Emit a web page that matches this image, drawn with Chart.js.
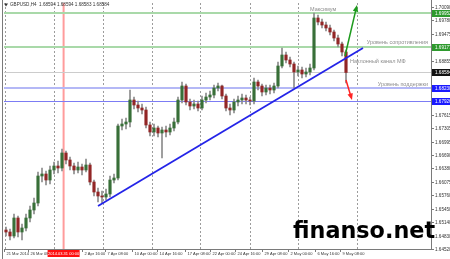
<!DOCTYPE html>
<html>
<head>
<meta charset="utf-8">
<script src="https://cdn.jsdelivr.net/npm/chart.js@4.4.1/dist/chart.umd.min.js"></script>
<style>
  html, body { margin: 0; padding: 0; background: #fff; }
  canvas { display: block; }
</style>
</head>
<body>
<canvas id="chart" width="450" height="259"></canvas>
<script>
// GBPUSD H4, 21 Mar - 9 May 2014 (one candle per slot)
const opens = [1.64961, 1.64915, 1.64823, 1.65237, 1.64915, 1.65007, 1.65237, 1.65421, 1.65582, 1.66203,
  1.66249, 1.66111, 1.66341, 1.66433, 1.66387, 1.66732, 1.66571, 1.66433, 1.66341, 1.66410,
  1.66341, 1.66456, 1.66065, 1.65835, 1.65743, 1.65720, 1.65789, 1.66111, 1.66157, 1.67353,
  1.67399, 1.67445, 1.67951, 1.67836, 1.67767, 1.67721, 1.67376, 1.67215, 1.67307, 1.67192,
  1.67261, 1.67215, 1.67307, 1.67445, 1.67951, 1.68273, 1.67905, 1.67813, 1.67859, 1.67767,
  1.67951, 1.68020, 1.68066, 1.68227, 1.68273, 1.68043, 1.67767, 1.67721, 1.67905, 1.67951,
  1.67997, 1.67951, 1.67928, 1.68365, 1.68273, 1.68135, 1.68227, 1.68181, 1.68273, 1.68733,
  1.68986, 1.68871, 1.68779, 1.68595, 1.68641, 1.68549, 1.68595, 1.68687, 1.69837, 1.69745,
  1.69676, 1.69607, 1.69515, 1.69377, 1.69239, 1.69055];
const highs = [1.65030, 1.64984, 1.65329, 1.65283, 1.65099, 1.65329, 1.65513, 1.65697, 1.66295, 1.66387,
  1.66318, 1.66433, 1.66525, 1.66548, 1.66824, 1.66778, 1.66640, 1.66502, 1.66525, 1.66479,
  1.66594, 1.66502, 1.66111, 1.65927, 1.65858, 1.65904, 1.66203, 1.66249, 1.67399, 1.67514,
  1.67537, 1.68181, 1.68020, 1.67928, 1.67859, 1.67790, 1.67445, 1.67399, 1.67353, 1.67330,
  1.67353, 1.67399, 1.67537, 1.68020, 1.68365, 1.68319, 1.67974, 1.67951, 1.67928, 1.68043,
  1.68112, 1.68158, 1.68296, 1.68342, 1.68296, 1.68089, 1.67859, 1.67974, 1.68043, 1.68089,
  1.68066, 1.68020, 1.68457, 1.68411, 1.68319, 1.68296, 1.68296, 1.68342, 1.68825, 1.69147,
  1.69055, 1.68940, 1.68825, 1.68733, 1.68710, 1.68687, 1.68779, 1.69952, 1.69906, 1.69814,
  1.69745, 1.69676, 1.69561, 1.69446, 1.69285, 1.69101];
const lows = [1.64823, 1.64731, 1.64777, 1.64800, 1.64731, 1.64938, 1.65145, 1.65329, 1.65513, 1.66065,
  1.65996, 1.66019, 1.66249, 1.66272, 1.66318, 1.66479, 1.66341, 1.66249, 1.66272, 1.66226,
  1.66295, 1.65996, 1.65743, 1.65605, 1.65582, 1.65651, 1.65720, 1.66042, 1.66111, 1.67261,
  1.67284, 1.67330, 1.67744, 1.67675, 1.67629, 1.67307, 1.67123, 1.67123, 1.67100, 1.66617,
  1.67100, 1.67146, 1.67238, 1.67399, 1.67882, 1.67836, 1.67721, 1.67744, 1.67698, 1.67721,
  1.67882, 1.67951, 1.67997, 1.68158, 1.67974, 1.67698, 1.67606, 1.67652, 1.67813, 1.67859,
  1.67859, 1.67836, 1.67859, 1.68181, 1.68043, 1.68066, 1.68089, 1.68112, 1.68227, 1.68687,
  1.68802, 1.68710, 1.68227, 1.68503, 1.68457, 1.68480, 1.68526, 1.68641, 1.69676, 1.69607,
  1.69538, 1.69446, 1.69308, 1.69170, 1.68963, 1.68342];
const closes = [1.64915, 1.64823, 1.65237, 1.64915, 1.65007, 1.65237, 1.65421, 1.65582, 1.66203, 1.66249,
  1.66111, 1.66341, 1.66433, 1.66387, 1.66732, 1.66571, 1.66433, 1.66341, 1.66410, 1.66341,
  1.66456, 1.66065, 1.65835, 1.65743, 1.65720, 1.65789, 1.66111, 1.66157, 1.67353, 1.67399,
  1.67445, 1.67951, 1.67836, 1.67767, 1.67721, 1.67376, 1.67215, 1.67307, 1.67192, 1.67261,
  1.67215, 1.67307, 1.67445, 1.67951, 1.68273, 1.67905, 1.67813, 1.67859, 1.67767, 1.67951,
  1.68020, 1.68066, 1.68227, 1.68273, 1.68043, 1.67767, 1.67721, 1.67905, 1.67951, 1.67997,
  1.67951, 1.67928, 1.68365, 1.68273, 1.68135, 1.68227, 1.68181, 1.68273, 1.68733, 1.68986,
  1.68871, 1.68779, 1.68595, 1.68641, 1.68549, 1.68595, 1.68687, 1.69837, 1.69745, 1.69676,
  1.69607, 1.69515, 1.69377, 1.69239, 1.69055, 1.68584];

// price scale labels (right side)
const priceTicks = [1.70090, 1.69780, 1.69475, 1.69165, 1.68855, 1.68545, 1.68235, 1.67925, 1.67615, 1.67305,
  1.66995, 1.66690, 1.66380, 1.66075, 1.65760, 1.65450, 1.65140, 1.64830, 1.64520];

// time scale labels, positions in candle slots
const timeLabels = ['21 Mar 2014', '26 Mar 08:00', '2 Apr 16:00', '7 Apr 08:00', '10 Apr 00:00', '14 Apr 16:00',
  '17 Apr 08:00', '22 Apr 00:00', '24 Apr 16:00', '29 Apr 08:00', '2 May 00:00', '6 May 16:00', '9 May 08:00'];
const timeTickPos = [-0.5, 5.5, 19, 24.75, 31.5, 37.75, 44.75, 51, 57.25, 64, 70.5, 77.25, 83.5];
const gridPos = [-0.25, 12, 24.25, 36.5, 48.5, 61, 73, 87.75];
const cursorPos = 14.4;
const cursorLabel = '2014.03.31 00:00';

// horizontal levels
const levelPrices = [1.69952, 1.69177, 1.68584, 1.68230, 1.67926];
const levelLine = ['#a9d9a9', '#a9d9a9', '#cccccc', '#b4b8f6', '#7c7cf4'];
const levelWidth = [2, 2, 1, 2, 1];
const levelBox = ['#2e9a2e', '#2e9a2e', '#111111', '#1a1aff', '#1a1aff'];

// text notes
const noteTexts = ['Максимум', 'Уровень сопротивления', 'Наклонный канал МФ', 'Уровень поддержки'];
const noteX = [76, 105.5, 86, 105.5];
const notePrice = [1.69975, 1.69200, 1.68768, 1.68250];
const noteAlign = ['left', 'right', 'left', 'right'];

// trend line and forecast arrows
const trendX = [23, 89.25];
const trendY = [1.65513, 1.69147];
const upArrowX = [84.75, 87.75];
const upArrowY = [1.68963, 1.70136];
const downArrowX = [85, 86.5];
const downArrowY = [1.68411, 1.67951];

const title = 'GBPUSD,H4  1.68594 1.68594 1.68583 1.68584';
const watermark = 'finanso.net';

const slots = opens.map((v, i) => i);
const bull = '#386f38', bear = '#922626';

function arrow(ctx, x0, y0, x1, y1, color) {
  const ang = Math.atan2(y1 - y0, x1 - x0);
  ctx.strokeStyle = color;
  ctx.fillStyle = color;
  ctx.lineWidth = 1.5;
  ctx.beginPath();
  ctx.moveTo(x0, y0);
  ctx.lineTo(x1 - Math.cos(ang) * 4, y1 - Math.sin(ang) * 4);
  ctx.stroke();
  ctx.beginPath();
  ctx.moveTo(x1, y1);
  ctx.lineTo(x1 - Math.cos(ang - 0.4) * 7, y1 - Math.sin(ang - 0.4) * 7);
  ctx.lineTo(x1 - Math.cos(ang + 0.4) * 7, y1 - Math.sin(ang + 0.4) * 7);
  ctx.closePath();
  ctx.fill();
}

const mt4 = {
  id: 'mt4',
  beforeDraw(chart) {
    const ctx = chart.ctx;
    ctx.save();
    ctx.fillStyle = '#fff';
    ctx.fillRect(0, 0, chart.width, chart.height);
    ctx.restore();
  },
  beforeDatasetsDraw(chart) {
    const {ctx, chartArea: a, scales: {x, y}} = chart;
    ctx.save();
    // dotted vertical grid
    ctx.strokeStyle = '#9c9c9c';
    ctx.lineWidth = 1;
    ctx.setLineDash([2, 2]);
    gridPos.forEach(v => {
      const px = Math.round(x.getPixelForValue(v)) + 0.5;
      ctx.beginPath(); ctx.moveTo(px, a.top); ctx.lineTo(px, a.bottom); ctx.stroke();
    });
    ctx.setLineDash([]);
    // red cursor line
    ctx.strokeStyle = '#ff9c9c';
    ctx.lineWidth = 2;
    const cx = x.getPixelForValue(cursorPos);
    ctx.beginPath(); ctx.moveTo(cx, a.top); ctx.lineTo(cx, a.bottom); ctx.stroke();
    // levels
    levelPrices.forEach((p, i) => {
      const py = Math.round(y.getPixelForValue(p)) + (levelWidth[i] === 1 ? 0.5 : 0);
      ctx.strokeStyle = levelLine[i];
      ctx.lineWidth = levelWidth[i];
      ctx.beginPath(); ctx.moveTo(a.left, py); ctx.lineTo(a.right, py); ctx.stroke();
    });
    ctx.restore();
  },
  afterDatasetsDraw(chart) {
    const {ctx, chartArea: a, scales: {x, y}} = chart;
    ctx.save();
    // notes
    ctx.font = '5.5px "Liberation Sans", Arial, sans-serif';
    ctx.fillStyle = '#8e8e8e';
    ctx.textBaseline = 'bottom';
    noteTexts.forEach((t, i) => {
      ctx.textAlign = noteAlign[i];
      ctx.fillText(t, x.getPixelForValue(noteX[i]), y.getPixelForValue(notePrice[i]));
    });
    // arrows
    arrow(ctx, x.getPixelForValue(upArrowX[0]), y.getPixelForValue(upArrowY[0]),
      x.getPixelForValue(upArrowX[1]), y.getPixelForValue(upArrowY[1]), '#1c9a1c');
    arrow(ctx, x.getPixelForValue(downArrowX[0]), y.getPixelForValue(downArrowY[0]),
      x.getPixelForValue(downArrowX[1]), y.getPixelForValue(downArrowY[1]), '#ff2424');

    // price axis
    ctx.strokeStyle = '#7a7a7a';
    ctx.lineWidth = 1;
    ctx.beginPath();
    ctx.moveTo(a.right + 0.5, 0); ctx.lineTo(a.right + 0.5, a.bottom + 1);
    ctx.moveTo(a.left, a.bottom + 0.5); ctx.lineTo(a.right + 1, a.bottom + 0.5);
    ctx.moveTo(2.5, 0); ctx.lineTo(2.5, chart.height);
    ctx.stroke();
    ctx.font = '4.6px "Liberation Sans", Arial, sans-serif';
    ctx.textAlign = 'left';
    ctx.textBaseline = 'middle';
    ctx.fillStyle = '#333';
    priceTicks.forEach(p => {
      const py = Math.round(y.getPixelForValue(p)) + 0.5;
      ctx.beginPath(); ctx.moveTo(a.right, py); ctx.lineTo(a.right + 3, py); ctx.stroke();
      ctx.fillText(p.toFixed(5), a.right + 4, py);
    });
    levelPrices.forEach((p, i) => {
      const py = Math.round(y.getPixelForValue(p));
      ctx.fillStyle = levelBox[i];
      ctx.fillRect(a.right + 1, py - 3, chart.width - a.right - 1, 7);
      ctx.fillStyle = '#fff';
      ctx.fillText(p.toFixed(5), a.right + 4, py + 0.5);
    });

    // time axis
    ctx.font = '4px "Liberation Sans", Arial, sans-serif';
    ctx.fillStyle = '#333';
    ctx.textBaseline = 'middle';
    timeLabels.forEach((t, i) => {
      const px = Math.round(x.getPixelForValue(timeTickPos[i])) + 0.5;
      ctx.beginPath(); ctx.moveTo(px, a.bottom); ctx.lineTo(px, a.bottom + 3); ctx.stroke();
      ctx.fillText(t, px + 2, a.bottom + 5);
    });
    const cx = x.getPixelForValue(cursorPos);
    ctx.fillStyle = '#ff1010';
    ctx.fillRect(cx - 16, a.bottom + 1, 32, 7);
    ctx.fillStyle = '#fff';
    ctx.textAlign = 'center';
    ctx.fillText(cursorLabel, cx, a.bottom + 5);

    // header
    ctx.font = '4.6px "Liberation Sans", Arial, sans-serif';
    ctx.fillStyle = '#333';
    ctx.beginPath(); ctx.moveTo(4, 3.5); ctx.lineTo(8, 3.5); ctx.lineTo(6, 6.5); ctx.closePath(); ctx.fill();
    ctx.textAlign = 'left';
    ctx.fillText(title, 10, 5);

    // watermark
    ctx.font = 'bold 100px "DejaVu Sans", Verdana, sans-serif';
    const size = 100 * 142 / ctx.measureText(watermark).width;
    ctx.font = 'bold ' + size.toFixed(1) + 'px "DejaVu Sans", Verdana, sans-serif';
    ctx.fillStyle = '#000';
    ctx.textBaseline = 'alphabetic';
    ctx.fillText(watermark, 293, 238);
    ctx.restore();
  }
};

new Chart(document.getElementById('chart'), {
  type: 'bar',
  data: {
    datasets: [
      {
        type: 'line',
        data: trendX.map((v, i) => ({x: v, y: trendY[i]})),
        borderColor: '#2424e8',
        borderWidth: 1.8,
        pointRadius: 0,
        order: 0
      },
      {
        data: slots.map(i => ({x: i, y: [opens[i], closes[i]]})),
        backgroundColor: c => closes[c.dataIndex] >= opens[c.dataIndex] ? bull : bear,
        barThickness: 2.5,
        minBarLength: 1,
        grouped: false,
        order: 1
      },
      {
        data: slots.map(i => ({x: i, y: [lows[i], highs[i]]})),
        backgroundColor: '#8c8c8c',
        barThickness: 1,
        grouped: false,
        order: 2
      }
    ]
  },
  options: {
    responsive: false,
    animation: false,
    devicePixelRatio: 1,
    layout: {padding: {left: 4, right: 19, top: 3, bottom: 10}},
    plugins: {legend: {display: false}, tooltip: {enabled: false}},
    scales: {
      x: {type: 'linear', min: -0.5, max: 106.25, offset: false, display: false},
      y: {type: 'linear', min: 1.64524, max: 1.70182, display: false}
    }
  },
  plugins: [mt4]
});
</script>
</body>
</html>
